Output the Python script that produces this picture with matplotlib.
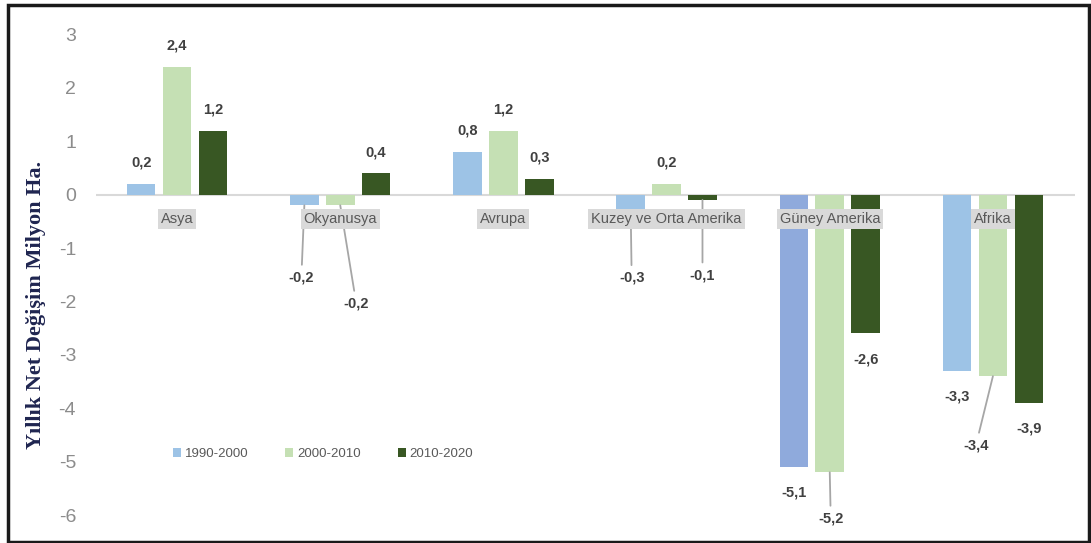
import matplotlib
matplotlib.use("Agg")
import matplotlib.pyplot as plt
from matplotlib.patches import Rectangle
import numpy as np

# ---- data ----
categories = ["Asya", "Okyanusya", "Avrupa", "Kuzey ve Orta Amerika", "Güney Amerika", "Afrika"]
series_names = ["1990-2000", "2000-2010", "2010-2020"]
v_1990_2000 = [0.2, -0.2, 0.8, -0.3, -5.1, -3.3]
v_2000_2010 = [2.4, -0.2, 1.2, 0.2, -5.2, -3.4]
v_2010_2020 = [1.2, 0.4, 0.3, -0.1, -2.6, -3.9]
y_ticks = [-6, -5, -4, -3, -2, -1, 0, 1, 2, 3]

# ---- styles ----
colors = ["#9DC3E6", "#C5E0B4", "#385723"]
special_color = {(4, 0): "#8FAADC"}
# label offsets in pixels (dx, dy downward) for labels with leader lines
leader_offsets = {
    (1, 0): (-3, 72),
    (1, 1): (16, 98),
    (3, 0): (1, 67),
    (3, 2): (0, 75),
    (4, 1): (1, 46),
    (5, 1): (-17, 69),
}

W, H = 1091, 543
fig = plt.figure(figsize=(W / 100, H / 100), dpi=100)
ax = fig.add_axes([95.5 / W, (H - 515) / H, 979 / W, 480.5 / H])

font_main = ["Liberation Sans Narrow", "Liberation Sans", "DejaVu Sans"]
tick_gray = "#8C8C8C"
lab_gray = "#404040"

series = [v_1990_2000, v_2000_2010, v_2010_2020]
x = np.arange(len(categories))
bw = 0.175
offs = [-0.22, 0.0, 0.22]

for s, vals in enumerate(series):
    cols = [special_color.get((i, s), colors[s]) for i in range(len(vals))]
    ax.bar(x + offs[s], vals, width=bw, color=cols, label=series_names[s], zorder=2)

def fmt(v):
    return f"{v:.1f}".replace(".", ",")

for s, vals in enumerate(series):
    for i, v in enumerate(vals):
        xc = x[i] + offs[s]
        if (i, s) in leader_offsets:
            dx, dy = leader_offsets[(i, s)]
            ax.annotate(fmt(v), xy=(xc, v), xytext=(dx, -dy), textcoords="offset pixels",
                        ha="center", va="center", fontsize=10.5, fontweight="bold",
                        color=lab_gray, family=font_main, zorder=3,
                        arrowprops=dict(arrowstyle="-", color="#A6A6A6", lw=1.3,
                                        shrinkA=2, shrinkB=0))
        else:
            dy = -21 if v >= 0 else 26
            ax.annotate(fmt(v), xy=(xc, v), xytext=(0, -dy), textcoords="offset pixels",
                        ha="center", va="center", fontsize=10.5, fontweight="bold",
                        color=lab_gray, family=font_main, zorder=3)

# category labels on boxes just below zero line
for i, c in enumerate(categories):
    ax.text(x[i], -0.46, c, ha="center", va="center", fontsize=10.5, color="#595959",
            family=font_main, zorder=5,
            bbox=dict(boxstyle="square,pad=0.2", fc="#D9D9D9", ec="none"))

ax.axhline(0, color="#D9D9D9", lw=1.5, zorder=1)
ax.set_xlim(-0.5, len(categories) - 0.5)
ax.set_ylim(-6, 3)
ax.set_yticks(y_ticks)
ax.set_yticklabels([str(t) for t in y_ticks], family=font_main, fontsize=14, color=tick_gray)
ax.tick_params(axis="y", length=0, pad=14)
ax.set_xticks([])
for sp in ax.spines.values():
    sp.set_visible(False)

ax.set_ylabel("Yıllık Net Değişim Milyon Ha.", family=["Liberation Serif", "DejaVu Serif"],
              fontsize=16, fontweight="bold", color="#1F2550")
ax.yaxis.set_label_coords((46 - 95.5) / 979, (515 - 305) / 480.5)

leg = ax.legend(loc="center", bbox_to_anchor=((323 - 95.5) / 979, (515 - 454) / 480.5),
                ncol=3, frameon=False, handlelength=0.6, handleheight=0.6,
                handletextpad=0.3, columnspacing=2.8,
                prop=dict(family=font_main, size=9.5))
for t in leg.get_texts():
    t.set_color("#595959")

# outer frame
fig.patches.append(Rectangle((8 / W, 1.5 / H), 1081 / W, (H - 6.5) / H, transform=fig.transFigure,
                             fill=False, ec="#1a1a1a", lw=2.5))

fig.savefig("out.png", dpi=100)
